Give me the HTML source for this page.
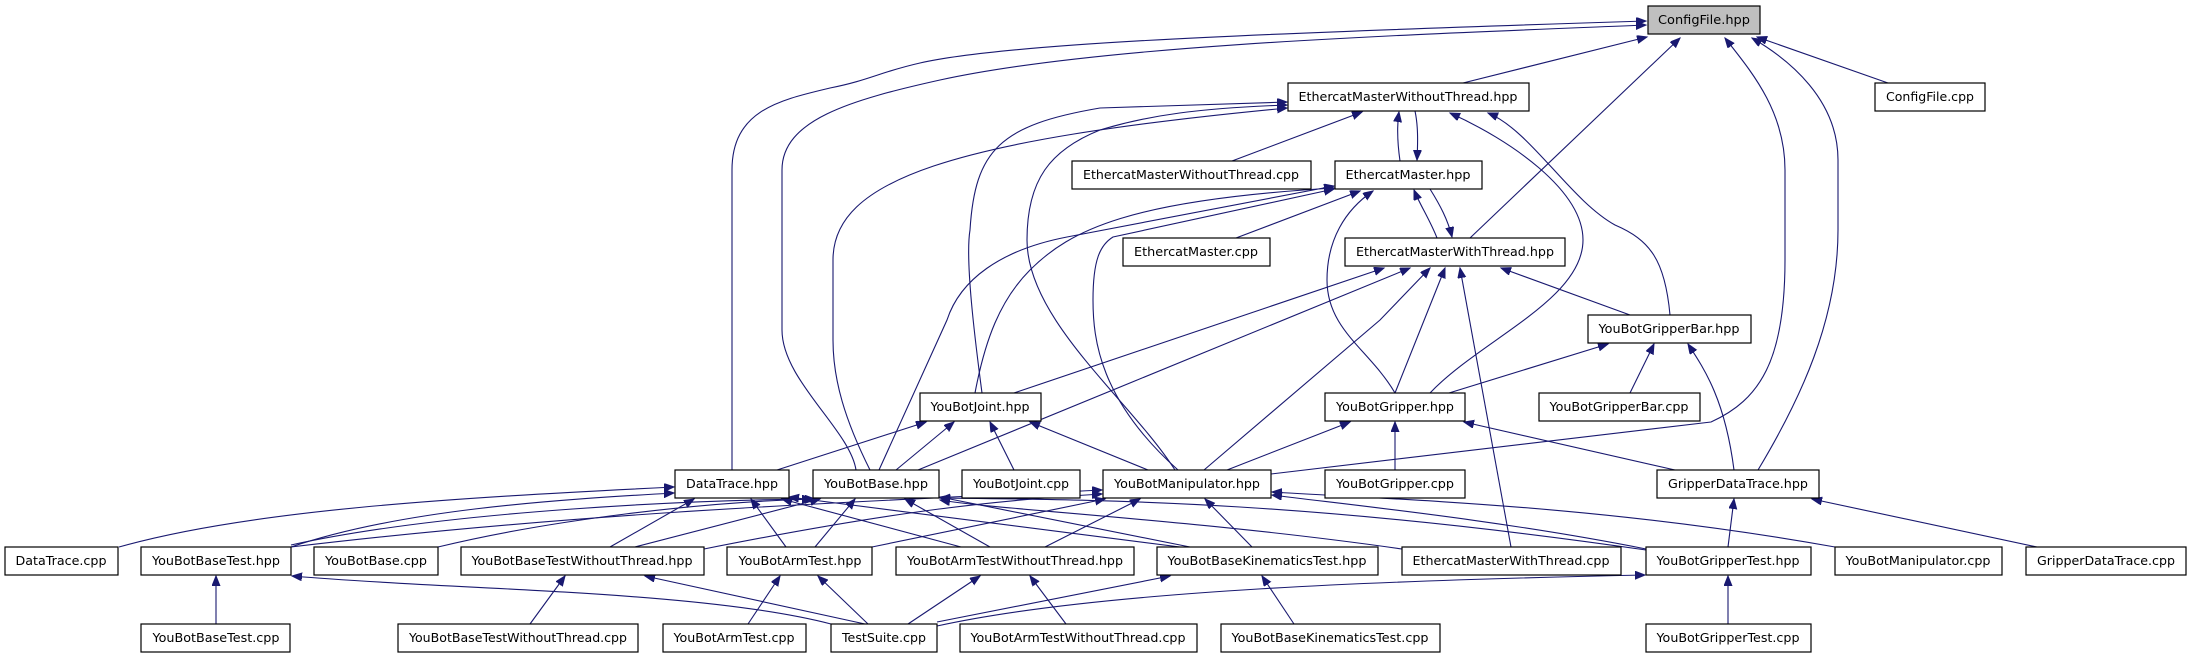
<!DOCTYPE html>
<html><head><meta charset="utf-8"><style>
html,body{margin:0;padding:0;background:#fff;}
svg{display:block;}
text{font-family:"DejaVu Sans","Liberation Sans",sans-serif;font-size:12.5px;fill:#000;}
.n{fill:#fff;stroke:#000;stroke-width:1.2;}
.e{fill:none;stroke:#191970;stroke-width:1.1;}
</style></head><body>
<svg width="2187" height="659" viewBox="0 0 2187 659" xmlns="http://www.w3.org/2000/svg">
<defs><marker id="a" markerUnits="userSpaceOnUse" markerWidth="12" markerHeight="10" refX="10" refY="4" orient="auto"><path d="M0,0 L10,4 L0,8 z" fill="#191970" stroke="#191970"/></marker></defs>
<g class="e" marker-end="url(#a)">
<path d="M1463,83 L1647,37"/>
<path d="M1888,83 L1757,37"/>
<path d="M1470,238 L1680,38"/>
<path d="M732,470 L732,170 C732,110 780,100 830,88 C870,80 880,72 920,63 C1000,45 1200,35 1646,21"/>
<path d="M856,470 C850,430 782,380 782,330 L782,170 C782,120 850,100 940,80 C1100,45 1400,35 1646,25"/>
<path d="M1271,474 L1711,422 C1760,400 1785,360 1785,260 L1785,170 C1785,110 1750,70 1725,38"/>
<path d="M1758,470 C1800,400 1838,320 1838,230 L1838,160 C1838,100 1790,60 1752,38"/>
<path d="M1400,161 C1397,140 1397,125 1399,112"/>
<path d="M1415,111 C1418,125 1418,140 1417,160"/>
<path d="M1232,161 L1362,112"/>
<path d="M1670,315 C1665,260 1650,240 1615,225 C1570,200 1530,130 1488,113"/>
<path d="M1430,393 C1480,340 1583,300 1583,240 C1583,190 1510,140 1450,113"/>
<path d="M982,393 C975,340 965,260 970,230 C975,150 1000,125 1100,108 L1287,102"/>
<path d="M1175,470 C1130,400 1027,320 1027,240 C1027,180 1050,150 1100,130 C1150,115 1200,108 1287,105"/>
<path d="M870,470 C845,420 833,380 833,340 L833,260 C833,180 950,140 1287,108"/>
<path d="M1430,189 C1440,205 1448,220 1452,237"/>
<path d="M1437,238 C1430,220 1420,205 1414,190"/>
<path d="M1236,238 L1360,191"/>
<path d="M879,470 L947,320 C960,280 1000,250 1067,237 L1334,186"/>
<path d="M975,393 C985,340 1000,300 1030,270 C1070,230 1130,200 1334,188"/>
<path d="M1178,470 C1100,400 1093,340 1093,300 C1093,260 1100,245 1113,237 L1334,189"/>
<path d="M1395,393 C1370,350 1327,330 1327,280 C1327,240 1345,210 1373,191"/>
<path d="M1014,393 L1384,268"/>
<path d="M918,470 L1410,268"/>
<path d="M1204,470 L1380,320 L1430,268"/>
<path d="M1395,393 L1445,268"/>
<path d="M1511,547 L1460,268"/>
<path d="M1630,315 L1501,268"/>
<path d="M1449,393 L1608,344"/>
<path d="M1630,393 L1654,344"/>
<path d="M1734,470 C1725,400 1705,370 1688,344"/>
<path d="M777,470 L926,422"/>
<path d="M896,470 L954,422"/>
<path d="M1014,470 L990,422"/>
<path d="M1148,470 L1030,422"/>
<path d="M1227,470 L1350,422"/>
<path d="M1395,470 L1395,422"/>
<path d="M1675,470 L1464,422"/>
<path d="M119,547 C250,510 450,498 674,487"/>
<path d="M291,547 C400,510 550,500 674,493"/>
<path d="M610,547 L694,499"/>
<path d="M786,547 L751,499"/>
<path d="M961,547 L782,499"/>
<path d="M1180,547 L789,497"/>
<path d="M291,545 C450,510 700,500 812,499"/>
<path d="M438,547 C550,520 700,502 815,499"/>
<path d="M635,547 L820,499"/>
<path d="M815,547 L855,499"/>
<path d="M990,547 L905,499"/>
<path d="M1190,547 L940,497"/>
<path d="M1402,549 C1200,520 1000,510 940,500"/>
<path d="M1646,550 C1300,500 1100,500 940,498"/>
<path d="M291,547 C600,510 900,500 1102,490"/>
<path d="M704,549 C900,510 1000,500 1102,494"/>
<path d="M872,547 L1105,499"/>
<path d="M1045,547 L1140,499"/>
<path d="M1252,547 L1205,499"/>
<path d="M1646,549 C1500,520 1350,505 1272,495"/>
<path d="M1835,547 C1600,505 1400,500 1272,492"/>
<path d="M1728,547 L1734,499"/>
<path d="M2037,547 L1812,499"/>
<path d="M216,624 L216,576"/>
<path d="M831,624 C700,590 450,590 292,576"/>
<path d="M530,624 L565,576"/>
<path d="M865,624 L645,576"/>
<path d="M748,624 L780,576"/>
<path d="M868,624 L818,576"/>
<path d="M908,624 L980,576"/>
<path d="M1066,624 L1030,576"/>
<path d="M937,622 L1170,576"/>
<path d="M1294,624 L1262,576"/>
<path d="M937,626 C1100,590 1400,580 1645,575"/>
<path d="M1728,624 L1728,576"/>
</g>
<g>
<rect x="1648" y="6" width="112" height="28" fill="#bfbfbf" stroke="#000" stroke-width="1.2"/><text x="1704" y="24" text-anchor="middle" textLength="92" lengthAdjust="spacingAndGlyphs">ConfigFile.hpp</text>
<rect class="n" x="1288" y="83" width="241" height="28"/><text x="1408" y="101" text-anchor="middle" textLength="219" lengthAdjust="spacingAndGlyphs">EthercatMasterWithoutThread.hpp</text>
<rect class="n" x="1875" y="83" width="110" height="28"/><text x="1930" y="101" text-anchor="middle" textLength="88" lengthAdjust="spacingAndGlyphs">ConfigFile.cpp</text>
<rect class="n" x="1072" y="161" width="239" height="28"/><text x="1191" y="179" text-anchor="middle" textLength="216" lengthAdjust="spacingAndGlyphs">EthercatMasterWithoutThread.cpp</text>
<rect class="n" x="1335" y="161" width="147" height="28"/><text x="1408" y="179" text-anchor="middle" textLength="125" lengthAdjust="spacingAndGlyphs">EthercatMaster.hpp</text>
<rect class="n" x="1123" y="238" width="147" height="28"/><text x="1196" y="256" text-anchor="middle" textLength="124" lengthAdjust="spacingAndGlyphs">EthercatMaster.cpp</text>
<rect class="n" x="1345" y="238" width="220" height="28"/><text x="1455" y="256" text-anchor="middle" textLength="198" lengthAdjust="spacingAndGlyphs">EthercatMasterWithThread.hpp</text>
<rect class="n" x="1588" y="315" width="163" height="28"/><text x="1669" y="333" text-anchor="middle" textLength="141" lengthAdjust="spacingAndGlyphs">YouBotGripperBar.hpp</text>
<rect class="n" x="920" y="393" width="121" height="28"/><text x="980" y="411" text-anchor="middle" textLength="99" lengthAdjust="spacingAndGlyphs">YouBotJoint.hpp</text>
<rect class="n" x="1325" y="393" width="140" height="28"/><text x="1395" y="411" text-anchor="middle" textLength="118" lengthAdjust="spacingAndGlyphs">YouBotGripper.hpp</text>
<rect class="n" x="1539" y="393" width="161" height="28"/><text x="1619" y="411" text-anchor="middle" textLength="139" lengthAdjust="spacingAndGlyphs">YouBotGripperBar.cpp</text>
<rect class="n" x="675" y="470" width="114" height="28"/><text x="732" y="488" text-anchor="middle" textLength="92" lengthAdjust="spacingAndGlyphs">DataTrace.hpp</text>
<rect class="n" x="813" y="470" width="126" height="28"/><text x="876" y="488" text-anchor="middle" textLength="104" lengthAdjust="spacingAndGlyphs">YouBotBase.hpp</text>
<rect class="n" x="962" y="470" width="118" height="28"/><text x="1021" y="488" text-anchor="middle" textLength="96" lengthAdjust="spacingAndGlyphs">YouBotJoint.cpp</text>
<rect class="n" x="1103" y="470" width="168" height="28"/><text x="1187" y="488" text-anchor="middle" textLength="146" lengthAdjust="spacingAndGlyphs">YouBotManipulator.hpp</text>
<rect class="n" x="1325" y="470" width="140" height="28"/><text x="1395" y="488" text-anchor="middle" textLength="118" lengthAdjust="spacingAndGlyphs">YouBotGripper.cpp</text>
<rect class="n" x="1657" y="470" width="162" height="28"/><text x="1738" y="488" text-anchor="middle" textLength="140" lengthAdjust="spacingAndGlyphs">GripperDataTrace.hpp</text>
<rect class="n" x="5" y="547" width="113" height="28"/><text x="61" y="565" text-anchor="middle" textLength="91" lengthAdjust="spacingAndGlyphs">DataTrace.cpp</text>
<rect class="n" x="141" y="547" width="150" height="28"/><text x="216" y="565" text-anchor="middle" textLength="128" lengthAdjust="spacingAndGlyphs">YouBotBaseTest.hpp</text>
<rect class="n" x="314" y="547" width="124" height="28"/><text x="376" y="565" text-anchor="middle" textLength="102" lengthAdjust="spacingAndGlyphs">YouBotBase.cpp</text>
<rect class="n" x="461" y="547" width="243" height="28"/><text x="582" y="565" text-anchor="middle" textLength="221" lengthAdjust="spacingAndGlyphs">YouBotBaseTestWithoutThread.hpp</text>
<rect class="n" x="727" y="547" width="145" height="28"/><text x="800" y="565" text-anchor="middle" textLength="123" lengthAdjust="spacingAndGlyphs">YouBotArmTest.hpp</text>
<rect class="n" x="896" y="547" width="238" height="28"/><text x="1015" y="565" text-anchor="middle" textLength="216" lengthAdjust="spacingAndGlyphs">YouBotArmTestWithoutThread.hpp</text>
<rect class="n" x="1157" y="547" width="221" height="28"/><text x="1267" y="565" text-anchor="middle" textLength="199" lengthAdjust="spacingAndGlyphs">YouBotBaseKinematicsTest.hpp</text>
<rect class="n" x="1402" y="547" width="219" height="28"/><text x="1511" y="565" text-anchor="middle" textLength="197" lengthAdjust="spacingAndGlyphs">EthercatMasterWithThread.cpp</text>
<rect class="n" x="1646" y="547" width="165" height="28"/><text x="1728" y="565" text-anchor="middle" textLength="143" lengthAdjust="spacingAndGlyphs">YouBotGripperTest.hpp</text>
<rect class="n" x="1835" y="547" width="167" height="28"/><text x="1918" y="565" text-anchor="middle" textLength="145" lengthAdjust="spacingAndGlyphs">YouBotManipulator.cpp</text>
<rect class="n" x="2026" y="547" width="160" height="28"/><text x="2106" y="565" text-anchor="middle" textLength="138" lengthAdjust="spacingAndGlyphs">GripperDataTrace.cpp</text>
<rect class="n" x="141" y="624" width="149" height="28"/><text x="216" y="642" text-anchor="middle" textLength="127" lengthAdjust="spacingAndGlyphs">YouBotBaseTest.cpp</text>
<rect class="n" x="398" y="624" width="240" height="28"/><text x="518" y="642" text-anchor="middle" textLength="218" lengthAdjust="spacingAndGlyphs">YouBotBaseTestWithoutThread.cpp</text>
<rect class="n" x="663" y="624" width="143" height="28"/><text x="734" y="642" text-anchor="middle" textLength="121" lengthAdjust="spacingAndGlyphs">YouBotArmTest.cpp</text>
<rect class="n" x="831" y="624" width="106" height="28"/><text x="884" y="642" text-anchor="middle" textLength="84" lengthAdjust="spacingAndGlyphs">TestSuite.cpp</text>
<rect class="n" x="960" y="624" width="237" height="28"/><text x="1078" y="642" text-anchor="middle" textLength="215" lengthAdjust="spacingAndGlyphs">YouBotArmTestWithoutThread.cpp</text>
<rect class="n" x="1221" y="624" width="219" height="28"/><text x="1330" y="642" text-anchor="middle" textLength="197" lengthAdjust="spacingAndGlyphs">YouBotBaseKinematicsTest.cpp</text>
<rect class="n" x="1646" y="624" width="165" height="28"/><text x="1728" y="642" text-anchor="middle" textLength="143" lengthAdjust="spacingAndGlyphs">YouBotGripperTest.cpp</text>
</g>
</svg>
</body></html>
